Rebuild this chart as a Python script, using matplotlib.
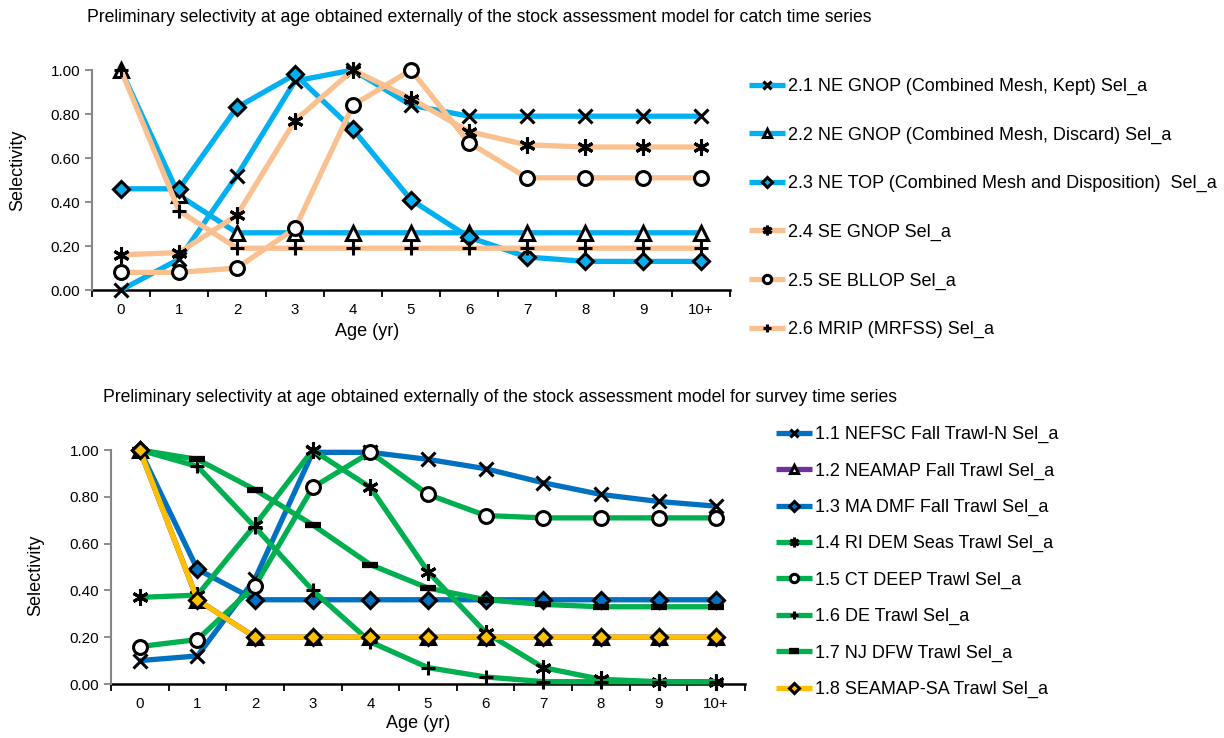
import matplotlib
matplotlib.use("Agg")
import matplotlib.pyplot as plt
from matplotlib.ticker import FormatStrFormatter

plt.rcParams["font.family"] = ["Liberation Sans", "DejaVu Sans"]

ages = ["0", "1", "2", "3", "4", "5", "6", "7", "8", "9", "10+"]

# catch selectivity (top panel)
catch_labels = [
    "2.1 NE GNOP (Combined Mesh, Kept) Sel_a",
    "2.2 NE GNOP (Combined Mesh, Discard) Sel_a",
    "2.3 NE TOP (Combined Mesh and Disposition)  Sel_a",
    "2.4 SE GNOP Sel_a",
    "2.5 SE BLLOP Sel_a",
    "2.6 MRIP (MRFSS) Sel_a",
]
ne_gnop_kept = [0.00, 0.14, 0.52, 0.95, 1.00, 0.84, 0.79, 0.79, 0.79, 0.79, 0.79]
ne_gnop_discard = [1.00, 0.43, 0.26, 0.26, 0.26, 0.26, 0.26, 0.26, 0.26, 0.26, 0.26]
ne_top = [0.46, 0.46, 0.83, 0.98, 0.73, 0.41, 0.24, 0.15, 0.13, 0.13, 0.13]
se_gnop = [0.16, 0.17, 0.34, 0.77, 1.00, 0.87, 0.72, 0.66, 0.65, 0.65, 0.65]
se_bllop = [0.08, 0.08, 0.10, 0.28, 0.84, 1.00, 0.67, 0.51, 0.51, 0.51, 0.51]
mrip = [1.00, 0.36, 0.19, 0.19, 0.19, 0.19, 0.19, 0.19, 0.19, 0.19, 0.19]
catch_series = [ne_gnop_kept, ne_gnop_discard, ne_top, se_gnop, se_bllop, mrip]

# survey selectivity (bottom panel)
survey_labels = [
    "1.1 NEFSC Fall Trawl-N Sel_a",
    "1.2 NEAMAP Fall Trawl Sel_a",
    "1.3 MA DMF Fall Trawl Sel_a",
    "1.4 RI DEM Seas Trawl Sel_a",
    "1.5 CT DEEP Trawl Sel_a",
    "1.6 DE Trawl Sel_a",
    "1.7 NJ DFW Trawl Sel_a",
    "1.8 SEAMAP-SA Trawl Sel_a",
]
nefsc = [0.10, 0.12, 0.45, 0.99, 0.99, 0.96, 0.92, 0.86, 0.81, 0.78, 0.76]
neamap = [1.00, 0.36, 0.20, 0.20, 0.20, 0.20, 0.20, 0.20, 0.20, 0.20, 0.20]
ma_dmf = [1.00, 0.49, 0.36, 0.36, 0.36, 0.36, 0.36, 0.36, 0.36, 0.36, 0.36]
ri_dem = [0.37, 0.38, 0.68, 1.00, 0.84, 0.48, 0.22, 0.07, 0.02, 0.01, 0.01]
ct_deep = [0.16, 0.19, 0.42, 0.84, 0.99, 0.81, 0.72, 0.71, 0.71, 0.71, 0.71]
de_trawl = [1.00, 0.93, 0.67, 0.40, 0.18, 0.07, 0.03, 0.01, 0.01, 0.01, 0.01]
nj_dfw = [1.00, 0.96, 0.83, 0.68, 0.51, 0.41, 0.36, 0.34, 0.33, 0.33, 0.33]
seamap = [1.00, 0.36, 0.20, 0.20, 0.20, 0.20, 0.20, 0.20, 0.20, 0.20, 0.20]
survey_series = [nefsc, neamap, ma_dmf, ri_dem, ct_deep, de_trawl, nj_dfw, seamap]

SKY = "#00B0F0"
PEACH = "#FAC090"
BLUE = "#0070C0"
PURPLE = "#7030A0"
GREEN = "#00B050"
GOLD = "#FFC000"

ASTERISK = (6, 2, 0)

# marker, line colour, marker face
catch_styles = [
    ("x", SKY, "none"),
    ("^", SKY, "white"),
    ("D", SKY, SKY),
    (ASTERISK, PEACH, "none"),
    ("o", PEACH, "white"),
    ("+", PEACH, "none"),
]
survey_styles = [
    ("x", BLUE, "none"),
    ("^", PURPLE, "white"),
    ("D", BLUE, BLUE),
    (ASTERISK, GREEN, "none"),
    ("o", GREEN, "white"),
    ("+", GREEN, "none"),
    ("_", GREEN, "none"),
    ("D", GOLD, GOLD),
]


def draw_series(ax, series, labels, styles):
    x = list(range(len(ages)))
    for vals, lab, (mk, col, face) in zip(series, labels, styles):
        size = 10
        mew = 2.2
        if mk == "D":
            size = 8.5
        elif mk == "^":
            size = 10
        elif mk == "_":
            size = 11
            mew = 4.5
        elif mk == ASTERISK:
            size = 11.5
        ax.plot(x, vals, color=col, lw=3.8, marker=mk, markersize=size,
                markeredgecolor="black", markerfacecolor=face,
                markeredgewidth=mew, label=lab, solid_capstyle="butt",
                clip_on=False)


def style_axes(ax):
    ax.set_xlim(-0.5, len(ages) - 0.5)
    ax.set_ylim(0, 1.0)
    ax.set_yticks([0, 0.2, 0.4, 0.6, 0.8, 1.0])
    ax.yaxis.set_major_formatter(FormatStrFormatter("%.2f"))
    ax.set_xticks(range(len(ages)))
    ax.set_xticklabels(ages)
    ax.set_xticks([i - 0.5 for i in range(len(ages) + 1)], minor=True)
    ax.tick_params(axis="x", which="major", length=0, labelsize=10.8, pad=9)
    ax.tick_params(axis="x", which="minor", length=5, width=1.3,
                   direction="out", color="black")
    ax.tick_params(axis="y", length=5, width=1.3, color="#868686",
                   labelsize=11, direction="out")
    for s in ["top", "right"]:
        ax.spines[s].set_visible(False)
    ax.spines["left"].set_color("#868686")
    ax.spines["left"].set_linewidth(1.5)
    ax.spines["bottom"].set_color("black")
    ax.spines["bottom"].set_linewidth(1.8)
    ax.spines["bottom"].set_zorder(0.5)


def add_legend(ax, x_px, y_px, spacing):
    ax.legend(loc="upper left", bbox_to_anchor=(x_px / 1224, 1 - y_px / 738),
              bbox_transform=fig.transFigure, frameon=False, fontsize=13,
              numpoints=1, markerscale=0.6, handlelength=2.0,
              handletextpad=0.15, labelspacing=spacing, borderpad=0,
              borderaxespad=0)


fig = plt.figure(figsize=(12.24, 7.38), dpi=100)

ax1 = fig.add_axes([92 / 1224, 1 - 290 / 738, 638 / 1224, 220 / 738])
draw_series(ax1, catch_series, catch_labels, catch_styles)
style_axes(ax1)
add_legend(ax1, 749, 78, 1.74)

ax2 = fig.add_axes([111 / 1224, 1 - 684 / 738, 634 / 1224, 234 / 738])
draw_series(ax2, survey_series, survey_labels, survey_styles)
style_axes(ax2)
add_legend(ax2, 776, 426, 1.065)

fig.text(87 / 1224, 1 - 17 / 738,
         "Preliminary selectivity at age obtained externally of the stock assessment model for catch time series",
         fontsize=12.7, va="center", ha="left")
fig.text(103 / 1224, 1 - 397 / 738,
         "Preliminary selectivity at age obtained externally of the stock assessment model for survey time series",
         fontsize=12.7, va="center", ha="left")

fig.text(367 / 1224, 1 - 331 / 738, "Age (yr)", fontsize=13, ha="center", va="center")
fig.text(418 / 1224, 1 - 723 / 738, "Age (yr)", fontsize=13, ha="center", va="center")
fig.text(18 / 1224, 1 - 170 / 738, "Selectivity", fontsize=13, rotation=90,
         ha="center", va="center")
fig.text(36 / 1224, 1 - 575 / 738, "Selectivity", fontsize=13, rotation=90,
         ha="center", va="center")

fig.savefig("out.png", dpi=100)
